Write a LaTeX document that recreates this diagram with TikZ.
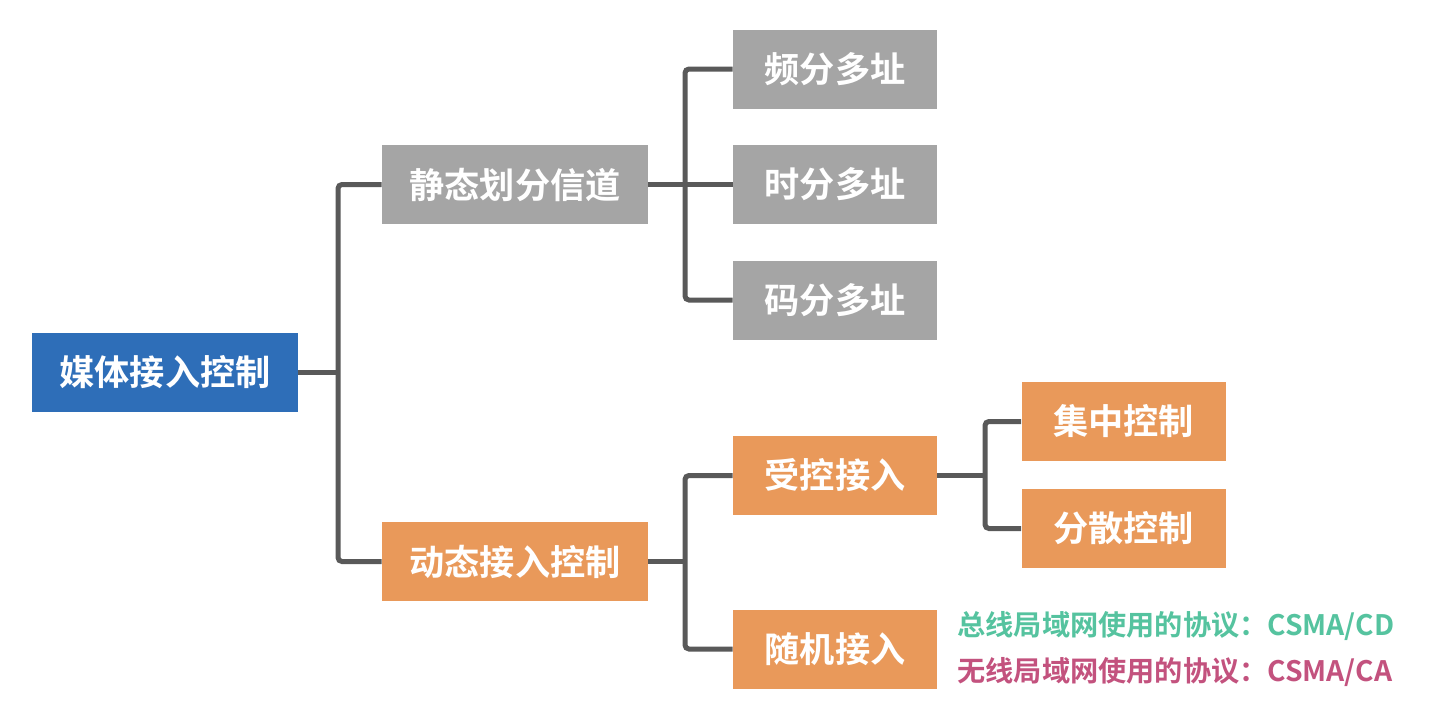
\documentclass[tikz,border=0pt]{standalone}
\usepackage{fontspec}
\newfontfamily\cjk{Noto Sans CJK SC}[BoldFont={* Bold}]
\definecolor{rootblue}{HTML}{2E6EB8}
\definecolor{boxgray}{HTML}{A5A5A5}
\definecolor{boxorange}{HTML}{E9995A}
\definecolor{linegray}{HTML}{595959}
\definecolor{cdgreen}{HTML}{55C39F}
\definecolor{capink}{HTML}{C3527E}
\tikzset{
  box/.style={inner sep=0pt, text=white, font=\cjk\bfseries\fontsize{17.6}{19}\selectfont, minimum height=39.5pt},
  wide/.style={box, minimum width=133pt},
  narrow/.style={box, minimum width=102pt},
  conn/.style={draw=linegray, line width=2.5pt, rounded corners=2pt},
  note/.style={inner sep=0pt, anchor=west, font=\cjk\bfseries\fontsize{14.1}{16}\selectfont}
}
\begin{document}
\begin{tikzpicture}[x=0.5pt,y=-0.5pt]
\useasboundingbox[fill=white] (0,0) rectangle (1440,714);
% nodes
\node[wide, fill=rootblue] (root) at (165,372.5) {媒体接入控制};
\node[wide, fill=boxgray] (s1) at (515,184.5) {静态划分信道};
\node[wide, fill=boxorange] (s2) at (515,561.5) {动态接入控制};
\node[narrow, fill=boxgray] (f1) at (835,69) {频分多址};
\node[narrow, fill=boxgray] (f2) at (835,184.5) {时分多址};
\node[narrow, fill=boxgray] (f3) at (835,300) {码分多址};
\node[narrow, fill=boxorange] (c1) at (835,475.5) {受控接入};
\node[narrow, fill=boxorange] (c2) at (835,649) {随机接入};
\node[narrow, fill=boxorange] (d1) at (1123.5,421.5) {集中控制};
\node[narrow, fill=boxorange] (d2) at (1123.5,528.5) {分散控制};
\node[note, text=cdgreen] (n1) at (957,626) {总线局域网使用的协议：CSMA/CD};
\node[note, text=capink] (n2) at (957,672) {无线局域网使用的协议：CSMA/CA};
% junctions
\coordinate (j1) at (338,372.5);
\coordinate (j2) at (685,184.5);
\coordinate (j3) at (685,561.5);
\coordinate (j4) at (985,475.5);
% connectors
\draw[conn] (root.east) -- (j1);
\draw[conn] (s1.west) -| (j1) |- (s2.west);
\draw[conn] (s1.east) -- (f2.west);
\draw[conn] (f1.west) -| (j2) |- (f3.west);
\draw[conn] (s2.east) -- (j3);
\draw[conn] (c1.west) -| (j3) |- (c2.west);
\draw[conn] (c1.east) -- (j4);
\draw[conn] (d1.west) -| (j4) |- (d2.west);
\end{tikzpicture}
\end{document}
